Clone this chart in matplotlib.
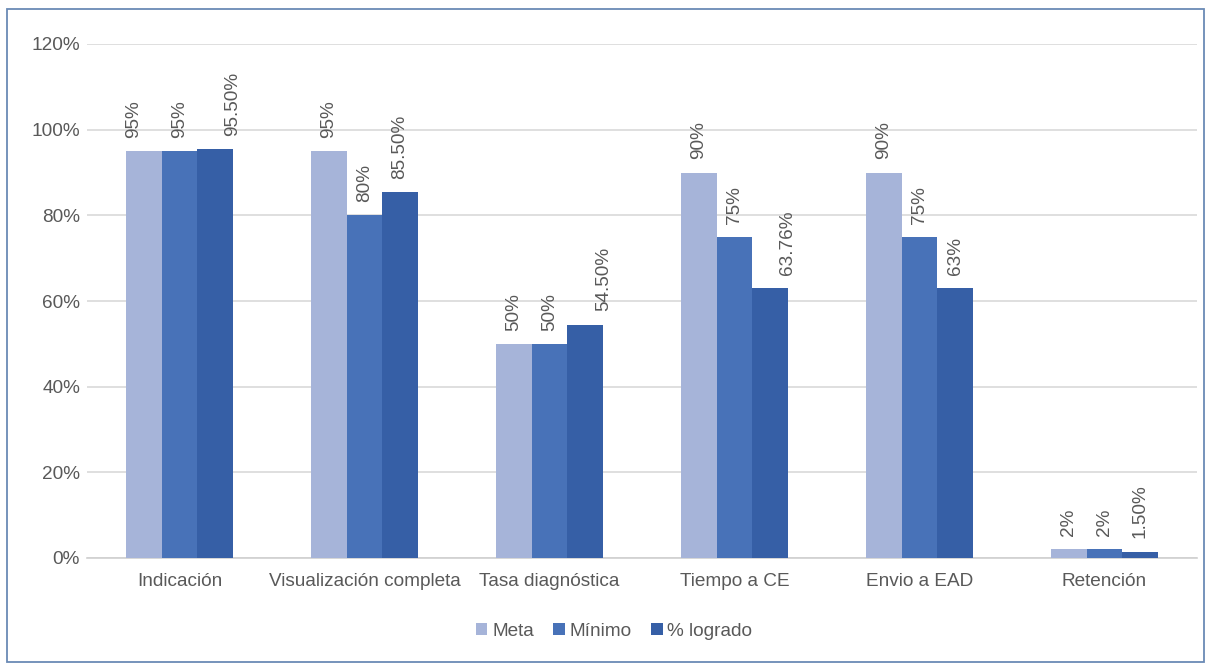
import numpy as np
import matplotlib.pyplot as plt
from matplotlib.patches import Rectangle
from matplotlib.ticker import FuncFormatter

plt.rcParams['font.family'] = ['Liberation Sans', 'DejaVu Sans']

# data
categories = ["Indicación", "Visualización completa", "Tasa diagnóstica",
              "Tiempo a CE", "Envio a EAD", "Retención"]
series_names = ["Meta", "Mínimo", "% logrado"]
meta = [95, 95, 50, 90, 90, 2]
minimo = [95, 80, 50, 75, 75, 2]
logrado = [95.5, 85.5, 54.5, 63, 63, 1.5]
labels_meta = ["95%", "95%", "50%", "90%", "90%", "2%"]
labels_minimo = ["95%", "80%", "50%", "75%", "75%", "2%"]
labels_logrado = ["95.50%", "85.50%", "54.50%", "63.76%", "63%", "1.50%"]

colors = ["#A6B4D9", "#4872B8", "#365FA6"]
text_color = "#595959"
FS = 13.7

# sideways nudges (pixels) of some data labels, as placed in the original
label_nudge = {(0, 0): -10, (2, 0): 18, (2, 2): 19, (2, 3): 17}

fig = plt.figure(figsize=(12.11, 6.63), dpi=100)
ax = fig.add_axes([87 / 1211, 1 - 558 / 663, 1110 / 1211, 514 / 663])

# outer frame
fig.patches.append(Rectangle((7 / 1211, 1 / 663), 1197 / 1211, 653 / 663,
                             transform=fig.transFigure, fill=False,
                             edgecolor="#6A8AB5", linewidth=1.3))

x = np.arange(len(categories))
w = 0.192
all_vals = [meta, minimo, logrado]
all_labels = [labels_meta, labels_minimo, labels_logrado]
for i, (vals, labs) in enumerate(zip(all_vals, all_labels)):
    pos = x + (i - 1) * w
    bars = ax.bar(pos, vals, width=w, color=colors[i], label=series_names[i], zorder=3)
    for j, (b, lab) in enumerate(zip(bars, labs)):
        dx = label_nudge.get((i, j), 0) * 0.72
        ax.annotate(lab, (b.get_x() + b.get_width() / 2, b.get_height()),
                    xytext=(dx, 9.5), textcoords="offset points",
                    rotation=90, ha="center", va="bottom",
                    fontsize=FS, color=text_color)

ax.set_xlim(-0.5, len(categories) - 0.5)
ax.set_ylim(0, 120)
ax.set_yticks(range(0, 121, 20))
ax.yaxis.set_major_formatter(FuncFormatter(lambda v, p: f"{int(v)}%"))
ax.set_xticks(x)
ax.set_xticklabels(categories)
ax.tick_params(axis="both", length=0, labelsize=FS, colors=text_color)
ax.tick_params(axis="x", pad=11)
ax.tick_params(axis="y", pad=5)
ax.grid(axis="y", color="#D9D9D9", linewidth=1.2, zorder=0)
for s in ["top", "right", "left"]:
    ax.spines[s].set_visible(False)
ax.spines["bottom"].set_color("#D0D0D0")
ax.spines["bottom"].set_linewidth(1.2)

leg = fig.legend(loc="center", bbox_to_anchor=(0.507, 1 - 631 / 663), ncol=3,
                 frameon=False, fontsize=FS, handlelength=0.62, handleheight=0.62,
                 handletextpad=0.25, columnspacing=1.0)
for t in leg.get_texts():
    t.set_color(text_color)

fig.savefig("out.png", dpi=100)
